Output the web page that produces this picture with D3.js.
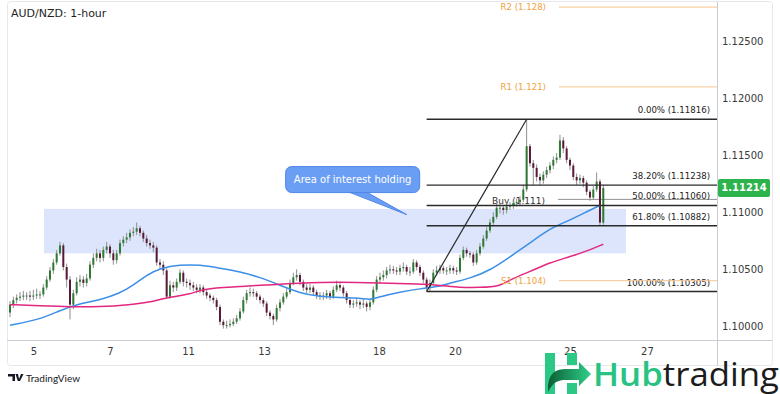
<!DOCTYPE html>
<html>
<head>
<meta charset="utf-8">
<script src="https://cdn.jsdelivr.net/npm/d3@7"></script>
<style>
  body { margin: 0; background: #fff; }
  svg { display: block; font-family: "DejaVu Sans", Verdana, sans-serif; }
</style>
</head>
<body>
<svg id="chart" width="780" height="394"></svg>
<script>
// ---- data ----
var firstOpen = 1.1012;
var closes = [
  1.1019,1.1023,1.1025,1.1026,1.1027,1.1027,1.1026,1.1027,1.1028,1.1028,
  1.1034,1.1041,1.1049,1.1056,1.1064,1.1071,1.1052,1.1041,1.1019,1.1029,
  1.1039,1.1041,1.1038,1.1042,1.1054,1.1060,1.1064,1.1060,1.1067,1.1070,
  1.1064,1.1058,1.1064,1.1073,1.1076,1.1078,1.1082,1.1083,1.1086,1.1082,
  1.1077,1.1073,1.1071,1.1069,1.1056,1.1054,1.1049,1.1026,1.1036,1.1034,
  1.1039,1.1047,1.1039,1.1038,1.1036,1.1034,1.1032,1.1034,1.1030,1.1027,
  1.1025,1.1023,1.1017,1.1004,1.1001,1.1001,1.1002,1.1004,1.1007,1.1013,
  1.1023,1.1029,1.1030,1.1029,1.1026,1.1023,1.1020,1.1012,1.1009,1.1006,
  1.1016,1.1021,1.1026,1.1030,1.1038,1.1043,1.1045,1.1039,1.1034,1.1032,
  1.1034,1.1030,1.1027,1.1026,1.1027,1.1029,1.1026,1.1032,1.1036,1.1034,
  1.1029,1.1023,1.1019,1.1020,1.1021,1.1019,1.1020,1.1017,1.1021,1.1032,
  1.1041,1.1043,1.1045,1.1049,1.1050,1.1049,1.1048,1.1051,1.1052,1.1048,
  1.1048,1.1056,1.1052,1.1047,1.1041,1.1034,1.1038,1.1047,1.1049,1.1051,
  1.1049,1.1049,1.1051,1.1049,1.1048,1.1060,1.1067,1.1064,1.1063,1.1056,
  1.1064,1.1070,1.1077,1.1084,1.1091,1.1096,1.1104,1.1104,1.1102,1.1105,
  1.1106,1.1108,1.1109,1.1111,1.1120,1.1158,1.1143,1.1139,1.1131,1.1128,
  1.1133,1.1137,1.1141,1.1146,1.1148,1.1163,1.1156,1.1146,1.1141,1.1131,
  1.1128,1.1130,1.1126,1.1118,1.1113,1.1120,1.1127,1.1091,1.11214
];
var highs = [
  1.1022,1.1026,1.1028,1.1030,1.1031,1.1030,1.1031,1.1032,1.1033,1.1031,
  1.1037,1.1044,1.1052,1.1059,1.1067,1.1074,1.1073,1.1055,1.1044,1.1032,
  1.1043,1.1045,1.1044,1.1046,1.1057,1.1064,1.1068,1.1067,1.1070,1.1074,
  1.1072,1.1067,1.1067,1.1076,1.1079,1.1082,1.1085,1.1087,1.1091,1.1088,
  1.1084,1.1080,1.1076,1.1074,1.1071,1.1059,1.1057,1.1051,1.1040,1.1039,
  1.1042,1.1050,1.1049,1.1042,1.1041,1.1039,1.1037,1.1037,1.1036,1.1032,
  1.1029,1.1027,1.1025,1.1019,1.1006,1.1005,1.1006,1.1007,1.1010,1.1016,
  1.1026,1.1032,1.1034,1.1033,1.1031,1.1028,1.1025,1.1022,1.1014,1.1011,
  1.1019,1.1024,1.1029,1.1033,1.1041,1.1047,1.1050,1.1047,1.1041,1.1037,
  1.1037,1.1036,1.1032,1.1030,1.1030,1.1032,1.1031,1.1035,1.1040,1.1039,
  1.1036,1.1031,1.1025,1.1023,1.1025,1.1023,1.1024,1.1022,1.1024,1.1035,
  1.1044,1.1047,1.1049,1.1052,1.1054,1.1053,1.1052,1.1054,1.1056,1.1054,
  1.1052,1.1059,1.1058,1.1054,1.1049,1.1043,1.1041,1.1050,1.1053,1.1054,
  1.1053,1.1052,1.1054,1.1053,1.1052,1.1063,1.1070,1.1069,1.1066,1.1065,
  1.1067,1.1073,1.1080,1.1087,1.1094,1.1100,1.1108,1.1108,1.1106,1.1108,
  1.1109,1.1111,1.1112,1.1114,1.1124,1.11816,1.1160,1.1146,1.1142,1.1134,
  1.1136,1.1140,1.1144,1.1149,1.1152,1.1168,1.1166,1.1158,1.1148,1.1143,
  1.1134,1.1133,1.1132,1.1128,1.1120,1.1123,1.1135,1.1129,1.1124
];
var lows = [
  1.1008,1.1016,1.1020,1.1022,1.1023,1.1023,1.1022,1.1023,1.1024,1.1024,
  1.1026,1.1032,1.1039,1.1046,1.1054,1.1062,1.1049,1.1034,1.1006,1.1015,
  1.1027,1.1035,1.1034,1.1035,1.1040,1.1051,1.1057,1.1056,1.1057,1.1064,
  1.1060,1.1054,1.1055,1.1062,1.1070,1.1073,1.1075,1.1079,1.1080,1.1079,
  1.1074,1.1070,1.1068,1.1065,1.1053,1.1050,1.1045,1.1024,1.1024,1.1030,
  1.1031,1.1037,1.1035,1.1034,1.1032,1.1031,1.1029,1.1029,1.1027,1.1024,
  1.1022,1.1020,1.1014,1.1001,1.0998,1.0998,1.0999,1.1000,1.1002,1.1005,
  1.1011,1.1020,1.1026,1.1026,1.1023,1.1020,1.1017,1.1009,1.1006,1.1001,
  1.1004,1.1013,1.1019,1.1024,1.1028,1.1036,1.1040,1.1036,1.1031,1.1029,
  1.1029,1.1027,1.1024,1.1023,1.1023,1.1024,1.1023,1.1024,1.1030,1.1031,
  1.1026,1.1020,1.1016,1.1016,1.1017,1.1015,1.1016,1.1013,1.1014,1.1019,
  1.1030,1.1038,1.1040,1.1042,1.1046,1.1046,1.1045,1.1045,1.1048,1.1045,
  1.1044,1.1046,1.1049,1.1044,1.1038,1.10305,1.1031,1.1036,1.1044,1.1046,
  1.1046,1.1045,1.1046,1.1046,1.1045,1.1046,1.1058,1.1061,1.1060,1.1053,
  1.1054,1.1062,1.1068,1.1075,1.1082,1.1089,1.1094,1.1099,1.1098,1.1099,
  1.1102,1.1103,1.1105,1.1106,1.1109,1.1118,1.1140,1.1124,1.1127,1.1124,
  1.1125,1.1130,1.1134,1.1138,1.1143,1.1146,1.1152,1.1143,1.1137,1.1128,
  1.1124,1.1125,1.1122,1.1115,1.1110,1.1111,1.1118,1.10882,1.1089
];

// moving averages (candle index, price)
var blueIdx  = [0,9,15,21,27,33,37,41,45,51,57,63,69,75,81,87,93,99,105,108,111,117,123,129,132,138,144,150,156,162,168,174,177];
var blueVals = [1.1001,1.1006,1.1014,1.1020,1.1023,1.1029,1.1036,1.1045,1.1051,1.1054,1.1054,1.1051,1.1048,1.1043,1.1036,1.1029,1.1026,1.1025,1.1025,1.1023,1.1026,1.1030,1.1033,1.1035,1.1038,1.1042,1.1049,1.1061,1.1073,1.1086,1.1093,1.1102,1.1106];
var pinkIdx  = [0,9,18,27,36,42,48,54,57,63,75,87,99,111,123,129,135,141,147,150,156,162,168,174,178];
var pinkVals = [1.1019,1.1018,1.1017,1.1017,1.1019,1.1021,1.1026,1.1028,1.1032,1.1034,1.1036,1.1038,1.1039,1.1038,1.1037,1.1036,1.1034,1.1034,1.1035,1.1041,1.1048,1.1056,1.1061,1.1067,1.1072];

// axis labels
var dayLabels = ["5","7","11","13","18","20","25","27"];
var dayIdx    = [7, 30, 53.4, 76.2, 110.7, 133.5, 168, 191.1];
var priceTicks = [1.100, 1.105, 1.110, 1.115, 1.120, 1.125];

// drawings
var fibNames  = ["0.00%","38.20%","50.00%","61.80%","100.00%"];
var fibLevels = [1.11816, 1.11238, 1.11060, 1.10882, 1.10305];
var fibStartIdx = 125, fibPeakIdx = 155;
var pivotNames  = ["R2","R1","S1"];
var pivotLevels = [1.128, 1.121, 1.104];
var pivotStartIdx = 164.7;
var buyLevel = 1.111, buyStartIdx = 164.4;
var zoneStartIdx = 10.2, zoneEndIdx = 184.8;
var zoneTop = 1.1103, zoneBottom = 1.1064;
var calloutText = "Area of interest holding";
var calloutIdx = 119, calloutPrice = 1.1098;
var lastPrice = 1.11214;

// ---- layout ----
var L = 7, R = 717, T = 2, B = 340, FR = 772, FB = 366;
var svg = d3.select("#chart");

var x = d3.scaleLinear().domain([0, 178]).range([10, 603.3]);
var y = d3.scaleLinear().domain([1.10, 1.12]).range([326.3, 98.3]);

svg.append("defs").append("clipPath").attr("id","plotClip")
  .append("rect").attr("x",L).attr("y",T).attr("width",R-L).attr("height",B-T);

// frame
svg.append("rect").attr("x",L+0.5).attr("y",T-0.5).attr("width",FR-L).attr("height",FB-T)
  .attr("fill","none").attr("stroke","#e6e8ee").attr("rx",3);
svg.append("line").attr("x1",R+0.5).attr("x2",R+0.5).attr("y1",T).attr("y2",FB)
  .attr("stroke","#c9ccd3");
svg.append("line").attr("x1",L).attr("x2",FR).attr("y1",B+0.5).attr("y2",B+0.5)
  .attr("stroke","#c9ccd3");

var plot = svg.append("g").attr("clip-path","url(#plotClip)");

// area of interest zone
plot.append("rect")
  .attr("x", x(zoneStartIdx)).attr("width", x(zoneEndIdx)-x(zoneStartIdx))
  .attr("y", y(zoneTop)).attr("height", y(zoneBottom)-y(zoneTop))
  .attr("fill","#dce5fb");

// buy label (sits under the candles)
plot.append("text").attr("x", x(buyStartIdx)-13).attr("y", y(buyLevel)+3)
  .attr("text-anchor","end").attr("font-size",9).attr("fill","#333")
  .text("Buy (" + buyLevel + ")");
plot.append("line").attr("x1", x(buyStartIdx)).attr("x2", R)
  .attr("y1", y(buyLevel)-1.5).attr("y2", y(buyLevel)-1.5)
  .attr("stroke","#777").attr("stroke-width",0.8);

// candles
var candles = closes.map(function(c, i){
  return {i: i, o: i ? closes[i-1] : firstOpen, c: c, h: highs[i], l: lows[i]};
});
plot.selectAll(".wick").data(candles).enter().append("line")
  .attr("class","wick")
  .attr("x1", function(d){ return x(d.i); }).attr("x2", function(d){ return x(d.i); })
  .attr("y1", function(d){ return y(d.h); }).attr("y2", function(d){ return y(d.l); })
  .attr("stroke","#8f8f8f").attr("stroke-width",1);
plot.selectAll(".body").data(candles).enter().append("rect")
  .attr("class","body")
  .attr("x", function(d){ return x(d.i)-1; }).attr("width", 2)
  .attr("y", function(d){ return y(Math.max(d.o, d.c)); })
  .attr("height", function(d){ return Math.max(1, Math.abs(y(d.o)-y(d.c))); })
  .attr("fill", function(d){ return d.c >= d.o ? "#2e7a33" : "#5a1838"; });

// moving averages
var maLine = d3.line().curve(d3.curveBasis)
  .x(function(d){ return x(d[0]); }).y(function(d){ return y(d[1]); });
plot.append("path").datum(blueIdx.map(function(v,i){ return [v, blueVals[i]]; }))
  .attr("d", maLine).attr("fill","none").attr("stroke","#3c8fe6").attr("stroke-width",1.5);
plot.append("path").datum(pinkIdx.map(function(v,i){ return [v, pinkVals[i]]; }))
  .attr("d", maLine).attr("fill","none").attr("stroke","#e3267f").attr("stroke-width",1.5);

// fibonacci retracement
fibLevels.forEach(function(lv, k){
  plot.append("line").attr("x1", x(fibStartIdx)).attr("x2", R)
    .attr("y1", y(lv)).attr("y2", y(lv))
    .attr("stroke","#2a2a2a").attr("stroke-width",1.4);
  plot.append("text").attr("x", R-7).attr("y", y(lv)-6)
    .attr("text-anchor","end").attr("font-size",8.6).attr("fill","#222")
    .text(fibNames[k] + " (" + lv.toFixed(5) + ")");
});
plot.append("line")
  .attr("x1", x(fibStartIdx)).attr("y1", y(fibLevels[4]))
  .attr("x2", x(fibPeakIdx)).attr("y2", y(fibLevels[0]))
  .attr("stroke","#2a2a2a").attr("stroke-width",1.2);

// pivot points
pivotLevels.forEach(function(lv, k){
  plot.append("line").attr("x1", x(pivotStartIdx)).attr("x2", R)
    .attr("y1", y(lv)).attr("y2", y(lv))
    .attr("stroke","#f7c48e").attr("stroke-width",1);
  plot.append("text").attr("x", x(pivotStartIdx)-13).attr("y", y(lv)+3)
    .attr("text-anchor","end").attr("font-size",8.6).attr("fill","#f0a23c")
    .text(pivotNames[k] + " (" + lv + ")");
});

// callout
var tipX = x(calloutIdx), tipY = y(calloutPrice);
var bx = tipX - 121, by = tipY - 48, bw = 134, bh = 26;
var call = svg.append("g");
call.append("path")
  .attr("d", "M" + (bx+62) + "," + (by+bh-1) + " L" + (bx+80) + "," + (by+bh-1) + " L" + tipX + "," + tipY + " Z")
  .attr("fill","#6a9ef4").attr("stroke","#4f86e8").attr("stroke-width",1);
call.append("rect").attr("x",bx).attr("y",by).attr("width",bw).attr("height",bh).attr("rx",6)
  .attr("fill","#6a9ef4").attr("stroke","#4f86e8").attr("stroke-width",1);
call.append("text").attr("x", bx+bw/2).attr("y", by+bh/2+3.5)
  .attr("text-anchor","middle").attr("font-size",10).attr("fill","#fff")
  .text(calloutText);

// price axis
var yAxis = d3.axisRight(y).tickValues(priceTicks).tickSize(0).tickPadding(5)
  .tickFormat(d3.format(".5f"));
var ya = svg.append("g").attr("transform","translate(" + R + ",0)").call(yAxis);
ya.select(".domain").remove();
ya.selectAll("text").attr("font-family","DejaVu Sans").attr("font-size",10).attr("fill","#3a3a3a");

// time axis
var xAxis = d3.axisBottom(x).tickValues(dayIdx).tickSize(0).tickPadding(8)
  .tickFormat(function(d, i){ return dayLabels[i]; });
var xa = svg.append("g").attr("transform","translate(0," + B + ")").call(xAxis);
xa.select(".domain").remove();
xa.selectAll("text").attr("font-family","DejaVu Sans").attr("font-size",10).attr("fill","#3a3a3a");

// last price tag
svg.append("rect").attr("x", R+1).attr("y", y(lastPrice)-9).attr("width",52).attr("height",18)
  .attr("rx",2).attr("fill","#2cb34b");
svg.append("text").attr("x", R+27).attr("y", y(lastPrice)+3.5).attr("text-anchor","middle")
  .attr("font-size",10).attr("font-weight","bold").attr("fill","#fff").text(lastPrice.toFixed(5));

// title
svg.append("text").attr("x",11).attr("y",17).attr("font-size",11).attr("fill","#1e1e1e")
  .text("AUD/NZD: 1-hour");

// TradingView mark
var tv = svg.append("g").attr("transform","translate(8,374)");
tv.append("path").attr("d","M0,0 H7 V7 H4.5 V2.5 H0 Z M7.5,0 H10 L11,5 L13,0 H15.5 L12,7 H9.8 Z")
  .attr("fill","#131722");
tv.append("text").attr("x",18).attr("y",7.5).attr("font-family","Lato, 'Open Sans', sans-serif")
  .attr("font-size",10).attr("fill","#131722").text("TradingView");

// Hubtrading logo
var hub = svg.append("g");
var grad = svg.select("defs").append("linearGradient").attr("id","arrowGrad")
  .attr("x1","0").attr("x2","1").attr("y1","0").attr("y2","0");
grad.append("stop").attr("offset","0").attr("stop-color","#0b5e35");
grad.append("stop").attr("offset","1").attr("stop-color","#2fd089");
hub.append("rect").attr("x",545).attr("y",353).attr("width",10).attr("height",41).attr("fill","#2cc886");
hub.append("rect").attr("x",567).attr("y",353).attr("width",10).attr("height",12).attr("fill","#2cc886");
hub.append("rect").attr("x",567).attr("y",383).attr("width",10).attr("height",11).attr("fill","#2cc886");
hub.append("path").attr("d","M548,385 C550,372 556,369 566,369 H579 V362 L591,374 L579,386 V380 H566 C558,380 553,382 548,392 Z")
  .attr("fill","url(#arrowGrad)");
hub.append("text").attr("x",593).attr("y",386).attr("font-family","'Open Sans', sans-serif")
  .attr("font-size",33).attr("font-weight",600).attr("textLength",186).attr("lengthAdjust","spacingAndGlyphs")
  .call(function(t){
    t.append("tspan").attr("fill","#28c383").text("Hub");
    t.append("tspan").attr("fill","#1c1c1c").attr("font-weight",500).text("trading");
  });
</script>
</body>
</html>
